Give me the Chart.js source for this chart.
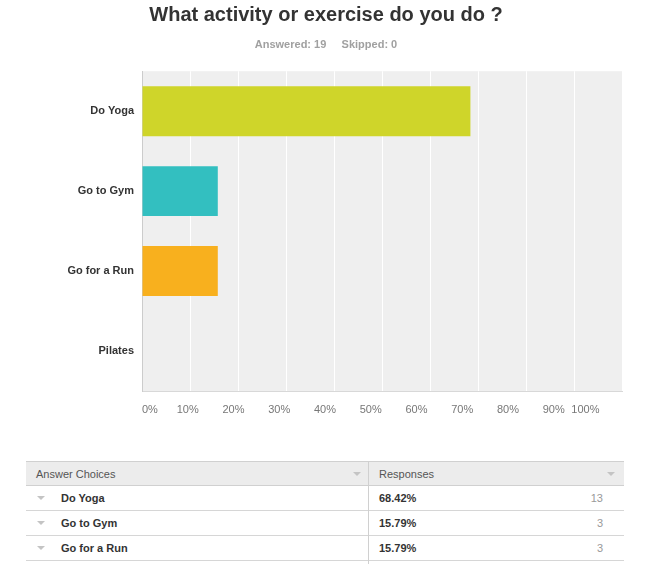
<!DOCTYPE html>
<html>
<head>
<meta charset="utf-8">
<script src="https://cdn.jsdelivr.net/npm/chart.js@4.4.1/dist/chart.umd.min.js"></script>
<style>
html,body{margin:0;padding:0;background:#fff;}
body{width:646px;height:564px;position:relative;overflow:hidden;font-family:"Liberation Sans",Arial,Helvetica,sans-serif;}
#c{position:absolute;left:0;top:0;}
.tbl{position:absolute;left:26px;top:461px;width:598px;font-size:11px;}
.row{position:relative;height:24px;border-bottom:1px solid #d6d6d6;}
.hdr{height:23px;background:#ececec;border-top:1px solid #d0d0d0;border-bottom:1px solid #d0d0d0;color:#555;}
.c1,.c2{position:absolute;top:0;height:100%;line-height:25px;}
.hdr .c1,.hdr .c2{line-height:24px;}
.c1{left:0;width:342px;}
.c2{left:342px;width:256px;}
.tri{position:absolute;top:50%;margin-top:-2px;width:0;height:0;border-left:4px solid transparent;border-right:4px solid transparent;border-top:4px solid #c4c4c4;}
.lbl{position:absolute;left:35px;font-weight:bold;color:#333;}
.pct{position:absolute;left:11px;font-weight:bold;color:#333;}
.cnt{position:absolute;right:21px;color:#999;}
.vline{position:absolute;left:368px;top:461px;width:1px;height:110px;background:#d0d0d0;}
</style>
</head>
<body>
<canvas id="c" width="646" height="430"></canvas>
<div class="tbl" id="tbl"></div>
<div class="vline"></div>
<script>
const categories = ["Do Yoga", "Go to Gym", "Go for a Run", "Pilates"];
const percentages = [68.42, 15.79, 15.79, 0];
const counts = [13, 3, 3, 0];
const tickValues = [0, 10, 20, 30, 40, 50, 60, 70, 80, 90, 100];
const answered = 19;
const skipped = 0;
const chartTitle = "What activity or exercise do you do ?";
const headers = ["Answer Choices", "Responses"];

const F = '"Liberation Sans", Arial, Helvetica, sans-serif';
const barColors = ['#cfd52a', '#33bfc0', '#f8b01e', '#aaaaaa'];

const bgPlugin = {
  id: 'bg',
  beforeDraw(chart) {
    const {ctx, chartArea: a} = chart;
    ctx.save();
    ctx.fillStyle = '#efefef';
    ctx.fillRect(a.left, a.top, a.right - a.left, a.bottom - a.top);
    ctx.restore();
  }
};

new Chart(document.getElementById('c'), {
  type: 'bar',
  data: {
    labels: categories,
    datasets: [{
      data: percentages,
      backgroundColor: barColors,
      borderWidth: 0,
      barPercentage: 0.625,
      categoryPercentage: 1
    }]
  },
  options: {
    indexAxis: 'y',
    responsive: false,
    animation: false,
    layout: {padding: {left: 30, right: 24, top: 0, bottom: 0}},
    plugins: {
      legend: {display: false},
      tooltip: {enabled: false},
      title: {
        display: true, text: chartTitle, color: '#333333',
        font: {size: 20, weight: 'bold', family: F},
        padding: {top: 3, bottom: 0}
      },
      subtitle: {
        display: true, text: 'Answered: ' + answered + '     Skipped: ' + skipped,
        color: '#a0a0a0',
        font: {size: 11, weight: 'bold', family: F},
        padding: {top: 11, bottom: 20}
      }
    },
    scales: {
      x: {
        type: 'linear', min: 0, max: 100, weight: 0,
        grid: {
          color: (c) => (c.tick && c.tick.value === 0) ? 'rgba(0,0,0,0)' : '#ffffff',
          lineWidth: 1, drawTicks: false
        },
        border: {color: '#d8d8d8', width: 1},
        ticks: {display: false, stepSize: 10}
      },
      x2: {
        type: 'linear', position: 'bottom', min: 0, max: 104.92, weight: 1,
        grid: {display: false, drawTicks: false},
        border: {display: false},
        ticks: {
          align: 'inner', autoSkip: false, maxRotation: 0, padding: 12,
          color: '#777777', font: {size: 11, family: F},
          callback: (v) => v + '%'
        },
        afterBuildTicks: (s) => { s.ticks = tickValues.map(v => ({value: v})); },
        afterFit: (s) => { s.height = 39; }
      },
      y: {
        grid: {display: false, drawTicks: false},
        border: {color: '#cccccc', width: 1},
        ticks: {color: '#333333', font: {size: 11, weight: 'bold', family: F}, padding: 8},
        afterFit: (s) => { s.width = 112; }
      }
    }
  },
  plugins: [bgPlugin]
});

// table
const tbl = document.getElementById('tbl');
let html = '<div class="row hdr"><div class="c1"><span style="position:absolute;left:10px;">' + headers[0] +
  '</span><div class="tri" style="left:327px;"></div></div><div class="c2"><span style="position:absolute;left:11px;">' +
  headers[1] + '</span><div class="tri" style="left:239px;"></div></div></div>';
categories.forEach((cat, i) => {
  html += '<div class="row"><div class="c1"><div class="tri" style="left:11px;"></div><span class="lbl">' + cat +
    '</span></div><div class="c2"><span class="pct">' + percentages[i].toFixed(2) + '%</span><span class="cnt">' +
    counts[i] + '</span></div></div>';
});
tbl.innerHTML = html;
</script>
</body>
</html>
